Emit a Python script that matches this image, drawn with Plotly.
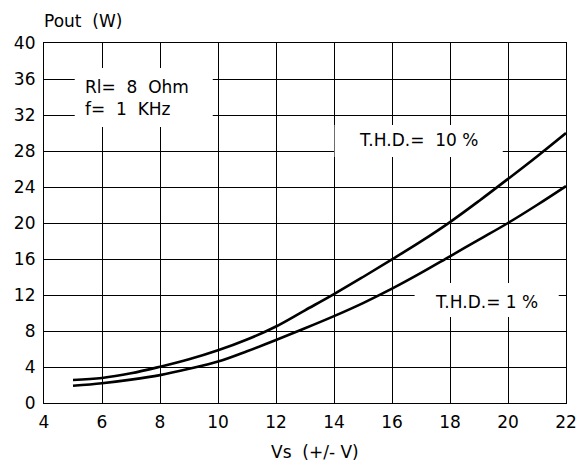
import plotly.graph_objects as go

vs = [5, 6, 7, 8, 9, 10, 11, 12, 13, 14, 15, 16, 17, 18, 19, 20, 21, 22]
pout_thd10 = [2.55, 2.78, 3.3, 4.03, 4.85, 5.85, 7.05, 8.5, 10.3, 12.1, 14.0, 15.95, 17.95, 20.1, 22.45, 24.9, 27.4, 30.0]
pout_thd1 = [1.92, 2.2, 2.6, 3.1, 3.8, 4.6, 5.75, 7.0, 8.3, 9.65, 11.1, 12.7, 14.45, 16.3, 18.15, 20.0, 22.0, 24.1]

x_ticks = [4, 6, 8, 10, 12, 14, 16, 18, 20, 22]
y_ticks = [0, 4, 8, 12, 16, 20, 24, 28, 32, 36, 40]

FONT = "DejaVu Sans"

fig = go.Figure()
fig.add_trace(go.Scatter(x=vs, y=pout_thd10, mode="lines", line=dict(color="black", width=2.6, shape="spline"),
                         showlegend=False, hoverinfo="skip"))
fig.add_trace(go.Scatter(x=vs, y=pout_thd1, mode="lines", line=dict(color="black", width=2.6, shape="spline"),
                         showlegend=False, hoverinfo="skip"))

# white boxes behind labels (cut the grid)
boxes = [(5.06, 9.82, 30.67, 37.22), (14.02, 19.82, 27.33, 30.89), (16.78, 21.75, 9.56, 13.33)]
for x0, x1, y0, y1 in boxes:
    fig.add_shape(type="rect", xref="x", yref="y", x0=x0, x1=x1, y0=y0, y1=y1,
                  fillcolor="white", line=dict(width=0), layer="above")

tf = dict(family=FONT, size=17, color="black")
fig.add_annotation(x=5.34, y=33.9, xref="x", yref="y", xanchor="left", yanchor="middle", align="left",
                   text="Rl=\u00a0 8\u00a0 Ohm<br>f=\u00a0 1\u00a0 KHz", showarrow=False, font=tf)
fig.add_annotation(x=(14.02 + 19.82) / 2, y=29.2, xref="x", yref="y", xanchor="center", yanchor="middle",
                   text="T.H.D.=\u00a0 10 %", showarrow=False, font=tf)
fig.add_annotation(x=(16.78 + 21.75) / 2, y=11.2, xref="x", yref="y", xanchor="center", yanchor="middle",
                   text="T.H.D.= 1 %", showarrow=False, font=tf)
fig.add_annotation(xref="paper", yref="paper", x=(42 - 44) / 522, y=1 + (43 - 21) / 360,
                   text="Pout\u00a0 (W)", showarrow=False, font=tf, xanchor="left", yanchor="middle")
fig.add_annotation(xref="paper", yref="paper", x=(315 - 44) / 522, y=-(451.5 - 403) / 360,
                   text="Vs\u00a0 (+/- V)", showarrow=False, font=tf, xanchor="center", yanchor="middle")

axis_common = dict(showgrid=True, gridcolor="black", gridwidth=1, showline=True, linecolor="black",
                   linewidth=1.2, mirror=True, zeroline=False, ticks="outside", tickcolor="rgba(0,0,0,0)",
                   tickfont=dict(family=FONT, size=17, color="black"))
fig.update_xaxes(range=[4, 22], tickvals=x_ticks, ticktext=[str(v) for v in x_ticks], ticklen=3, **axis_common)
fig.update_yaxes(range=[0, 40], tickvals=y_ticks, ticktext=[str(v) for v in y_ticks], ticklen=4, **axis_common)

fig.update_layout(width=585, height=469, margin=dict(l=44, r=19, t=43, b=66, autoexpand=False),
                  paper_bgcolor="white", plot_bgcolor="white", font=dict(family=FONT))

fig.write_html("out.html", config={"displayModeBar": False},
               post_script="document.body.style.margin='0px';document.body.style.padding='0px';")
